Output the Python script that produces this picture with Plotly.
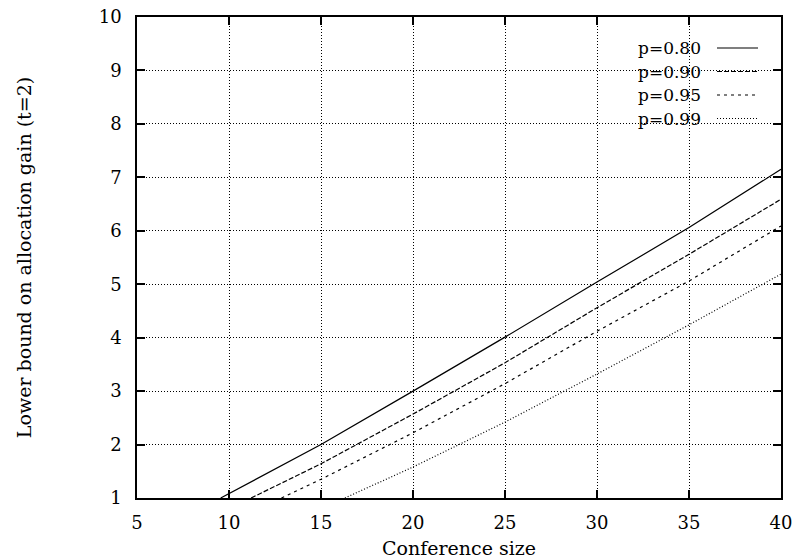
import plotly.graph_objects as go

# Data
labels = ["p=0.80", "p=0.90", "p=0.95", "p=0.99"]

x_p80 = [9.55, 15, 20, 25, 30, 35, 40]
y_p80 = [1.0, 2.0, 3.0, 4.01, 5.04, 6.06, 7.15]

x_p90 = [11.2, 15, 20, 25, 30, 35, 40]
y_p90 = [1.0, 1.64, 2.57, 3.53, 4.56, 5.56, 6.59]

x_p95 = [12.85, 15, 20, 25, 30, 35, 40]
y_p95 = [1.0, 1.35, 2.22, 3.14, 4.12, 5.06, 6.09]

x_p99 = [16.3, 20, 25, 30, 35, 40]
y_p99 = [1.0, 1.58, 2.42, 3.32, 4.24, 5.19]

x_ticks = [5, 10, 15, 20, 25, 30, 35, 40]
y_ticks = [1, 2, 3, 4, 5, 6, 7, 8, 9, 10]

series_x = [x_p80, x_p90, x_p95, x_p99]
series_y = [y_p80, y_p90, y_p95, y_p99]
dashes = ["solid", "5px,2px", "3px,4px", "1px,2px"]

FONT = "DejaVu Serif"
FS = 18

fig = go.Figure()
for lab, xs, ys, d in zip(labels, series_x, series_y, dashes):
    fig.add_trace(go.Scatter(x=xs, y=ys, mode="lines", name=lab,
                             line=dict(color="black", width=1.2, dash=d),
                             showlegend=False))

# plot area in page pixels (body margin removed below)
PL, PR, PT, PB = 137, 781, 17, 498
W, H = PR - PL, PB - PT

# gnuplot-style legend: text right-aligned, sample line to the right
leg_y_px = [48, 71.5, 95, 118.5]
for lab, d, ypx in zip(labels, dashes, leg_y_px):
    yp = (PB - ypx) / H
    fig.add_annotation(x=(703 - PL) / W, y=yp, xref="paper", yref="paper",
                       text=lab, showarrow=False, xanchor="right",
                       yanchor="middle", font=dict(family=FONT, size=17, color="black"))
    fig.add_shape(type="line", xref="paper", yref="paper",
                  x0=(717 - PL) / W, x1=(758 - PL) / W, y0=yp, y1=yp,
                  line=dict(color="black", width=1.2, dash=d))

axis_common = dict(
    showline=True, linecolor="black", linewidth=1.5, mirror="ticks",
    ticks="inside", ticklen=8, tickcolor="black", tickwidth=1.5,
    showgrid=True, gridcolor="black", gridwidth=1, griddash="1px,2px",
    zeroline=False, automargin=False, ticklabeloverflow="allow",
    tickfont=dict(family=FONT, size=FS, color="black"),
)

fig.update_xaxes(range=[5, 40], tickvals=x_ticks,
                 title=dict(text="Conference size", standoff=10,
                            font=dict(family=FONT, size=19, color="black")),
                 ticklabelstandoff=8, **axis_common)
fig.update_yaxes(range=[1, 10], tickvals=y_ticks,
                 title=dict(text="Lower bound on allocation gain (t=2)", standoff=62,
                            font=dict(family=FONT, size=19, color="black")),
                 ticklabelstandoff=10, **axis_common)

FW, FH = 795, 559
fig.update_layout(
    width=FW, height=FH,
    margin=dict(l=PL, r=FW - PR, t=PT, b=FH - PB),
    paper_bgcolor="white", plot_bgcolor="white",
    font=dict(family=FONT, size=FS, color="black"),
)

fig.write_html("out.html", config={"displayModeBar": False},
               post_script="document.body.style.margin='0';document.body.style.overflow='hidden';")
